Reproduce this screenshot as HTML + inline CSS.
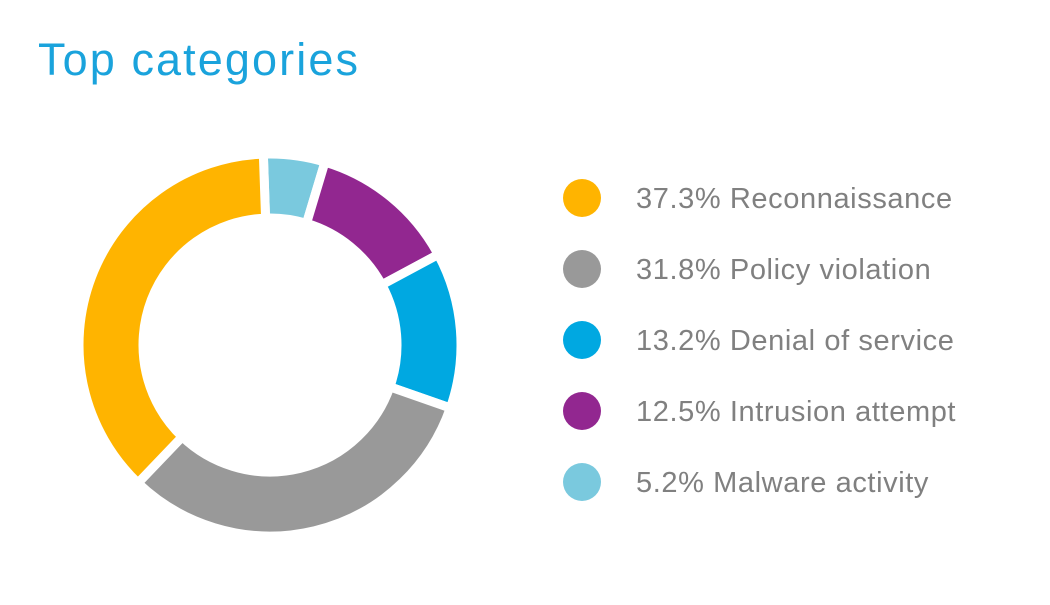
<!DOCTYPE html>
<html><head><meta charset="utf-8"><style>
body{margin:0;width:1050px;height:600px;background:#fff;overflow:hidden;font-family:"Liberation Sans",sans-serif}
</style></head><body>
<svg id="chart" width="1050" height="600" viewBox="0 0 1050 600">
<text x="38" y="75" font-size="45" letter-spacing="2.1" fill="#1aa3dc">Top categories</text>
<g id="slices"></g>
<g id="legend"></g>
</svg>
<script>
const categories = ["Malware activity","Intrusion attempt","Denial of service","Policy violation","Reconnaissance"];
const values = [5.2,12.5,13.2,31.8,37.3];
const colors = ["#7ac9de","#922790","#00a8e1","#999999","#ffb400"];
const legendOrder = [4,3,2,1,0];
const NS="http://www.w3.org/2000/svg";
const cx=270,cy=345,R=191,r=127,startDeg=-2;
const total=values.reduce((a,b)=>a+b,0);
function pt(a,rad){return [cx+rad*Math.sin(a),cy-rad*Math.cos(a)];}
let acc=0;
const off=startDeg*Math.PI/180;
const g=document.getElementById('slices');
values.forEach((v,i)=>{
  const a0=off+acc/total*2*Math.PI; acc+=v; const a1=off+acc/total*2*Math.PI;
  const large=(a1-a0)>Math.PI?1:0;
  const [x0,y0]=pt(a0,R),[x1,y1]=pt(a1,R),[x2,y2]=pt(a1,r),[x3,y3]=pt(a0,r);
  const p=document.createElementNS(NS,'path');
  p.setAttribute('d',`M${x0},${y0}A${R},${R} 0 ${large} 1 ${x1},${y1}L${x2},${y2}A${r},${r} 0 ${large} 0 ${x3},${y3}Z`);
  p.setAttribute('fill',colors[i]);
  p.setAttribute('stroke','#fff');
  p.setAttribute('stroke-width','9');
  
  
  g.appendChild(p);
});
const lg=document.getElementById('legend');
legendOrder.forEach((idx,k)=>{
  const y=198+k*71;
  const c=document.createElementNS(NS,'circle');
  c.setAttribute('cx',582);c.setAttribute('cy',y);c.setAttribute('r',19);c.setAttribute('fill',colors[idx]);
  
  
  lg.appendChild(c);
  const t=document.createElementNS(NS,'text');
  t.setAttribute('x',636);t.setAttribute('y',y+10);t.setAttribute('font-size','29');t.setAttribute('letter-spacing','0.6');t.setAttribute('fill','#808080');
  t.textContent=values[idx].toFixed(1)+'% '+categories[idx];
  
  
  lg.appendChild(t);
});
</script>
</body></html>
